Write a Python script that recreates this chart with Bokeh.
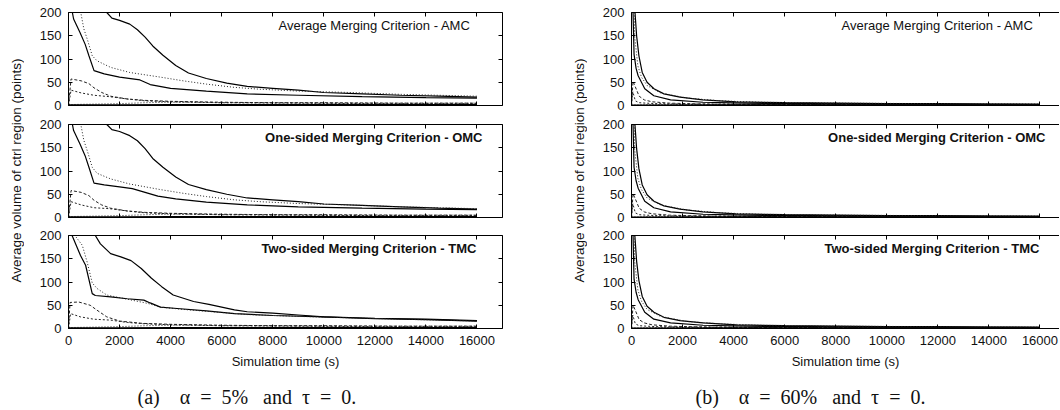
from bokeh.plotting import figure
from bokeh.layouts import row, column
from bokeh.models import FixedTicker, LinearAxis, Label, Range1d
from bokeh.embed import file_html
from bokeh.resources import INLINE

# ---------------- data ----------------
X_TICKS = [0, 2000, 4000, 6000, 8000, 10000, 12000, 14000, 16000]
Y_TICKS = [0, 50, 100, 150, 200]
Y_LABEL = "Average volume of ctrl region (points)"
X_LABEL = "Simulation time (s)"
PANEL_TITLES = ["Average Merging Criterion - AMC",
                "One-sided Merging Criterion - OMC",
                "Two-sided Merging Criterion - TMC"]
CAPTION_A = "(a)\u2003α\u2002=\u20025%\u2002\u2005and\u2002τ\u2002=\u20020."
CAPTION_B = "(b)\u2003α\u2002=\u200260%\u2002\u2005and\u2002τ\u2002=\u20020."

# --- (a) alpha = 5%, AMC ---
A_AMC_S1_X = [1400, 1500, 1700, 2000, 2400, 2700, 3000, 3300, 3700, 4200, 4700, 5400, 6200, 7000, 8000, 9000, 10000, 11500, 13000, 14500, 16000]
A_AMC_S1_Y = [215, 200, 188, 183, 175, 163, 147, 128, 108, 86, 70, 58, 48, 41, 37, 33, 28, 25, 22, 20, 18]
A_AMC_S2_X = [100, 200, 450, 650, 800, 1000, 1400, 2000, 2800, 3200, 4000, 5400, 7000, 9000, 11500, 14000, 16000]
A_AMC_S2_Y = [215, 186, 157, 132, 107, 75, 68, 61, 55, 45, 37, 31, 25, 22, 19, 17, 16]
A_AMC_S3_X = [430, 600, 750, 930, 1120, 1650, 2400, 3600, 4500, 5400, 6500, 7500, 9000, 11000, 13000, 16000]
A_AMC_S3_Y = [215, 165, 140, 107, 96, 82, 71, 61, 53, 46, 39, 35, 31, 28, 24, 20]
A_AMC_S4_X = [0, 100, 500, 800, 1000, 1300, 1650, 2300, 3000, 4000, 6000, 8000, 10000, 13000, 16000]
A_AMC_S4_Y = [0, 57, 53, 47, 38, 28, 20, 14, 11, 9, 7, 6, 6, 5, 5]
A_AMC_S5_X = [0, 100, 500, 1000, 1600, 2300, 3000, 4000, 6000, 9000, 12000, 16000]
A_AMC_S5_Y = [0, 33, 27, 22, 19, 14, 10, 8, 6, 5, 4, 4]
A_AMC_S6_X = [0, 1000, 2000, 3000, 4000, 5000, 6000, 8000, 10000, 12000, 14000, 16000]
A_AMC_S6_Y = [2, 3, 4, 6, 7, 7, 6, 6, 5, 5, 5, 5]
A_AMC_S7_X = [0, 2000, 4000, 8000, 12000, 16000]
A_AMC_S7_Y = [1, 1, 1.5, 1.5, 1.5, 1.5]

# --- (a) alpha = 5%, OMC ---
A_OMC_S1_X = [1400, 1500, 1700, 2000, 2400, 2700, 3000, 3300, 3700, 4200, 4700, 5400, 6200, 7000, 8000, 9000, 10000, 11500, 13000, 14500, 16000]
A_OMC_S1_Y = [215, 200, 189, 185, 176, 165, 148, 127, 108, 87, 71, 60, 50, 42, 38, 34, 29, 26, 23, 20, 18]
A_OMC_S2_X = [100, 200, 450, 650, 800, 1000, 1400, 2000, 2500, 3000, 3500, 4200, 5400, 7000, 9000, 11500, 14000, 16000]
A_OMC_S2_Y = [215, 187, 158, 133, 108, 74, 70, 66, 62, 54, 46, 40, 33, 27, 23, 20, 18, 17]
A_OMC_S3_X = [430, 600, 750, 930, 1120, 1650, 2400, 3600, 4500, 5400, 6500, 7500, 9000, 11000, 13000, 16000]
A_OMC_S3_Y = [215, 166, 141, 108, 95, 83, 72, 60, 52, 45, 38, 34, 30, 27, 23, 19]
A_OMC_S4_X = [0, 100, 500, 800, 1000, 1300, 1650, 2300, 3000, 4000, 6000, 8000, 10000, 13000, 16000]
A_OMC_S4_Y = [0, 58, 54, 47, 37, 27, 20, 14, 11, 9, 7, 6, 6, 5, 5]
A_OMC_S5_X = [0, 100, 500, 1000, 1600, 2300, 3000, 4000, 6000, 9000, 12000, 16000]
A_OMC_S5_Y = [0, 34, 27, 21, 19, 14, 10, 8, 6, 5, 4, 4]
A_OMC_S6_X = [0, 1000, 2000, 3000, 4000, 5000, 6000, 8000, 10000, 12000, 14000, 16000]
A_OMC_S6_Y = [2, 3, 4, 6, 7, 7, 6, 6, 5, 5, 5, 5]
A_OMC_S7_X = [0, 2000, 4000, 8000, 12000, 16000]
A_OMC_S7_Y = [1, 1, 1.5, 1.5, 1.5, 1.5]

# --- (a) alpha = 5%, TMC ---
A_TMC_S1_X = [900, 1050, 1250, 1650, 2050, 2450, 2850, 3250, 3650, 4100, 4900, 5500, 6500, 7000, 8000, 9000, 10000, 12000, 14000, 16000]
A_TMC_S1_Y = [215, 200, 182, 161, 154, 146, 129, 108, 90, 72, 58, 52, 40, 36, 33, 29, 25, 21, 19, 16]
A_TMC_S2_X = [100, 140, 470, 670, 930, 1050, 1650, 2300, 2950, 3200, 3600, 4250, 5400, 6500, 8000, 10000, 12000, 14000, 16000]
A_TMC_S2_Y = [215, 200, 157, 136, 75, 71, 68, 64, 61, 55, 46, 43, 38, 32, 28, 25, 22, 20, 17]
A_TMC_S3_X = [200, 250, 540, 730, 930, 1120, 1500, 2300, 3100, 3600, 4500, 5400, 7000, 9000, 11000, 13000, 16000]
A_TMC_S3_Y = [215, 200, 179, 143, 98, 86, 72, 63, 54, 46, 41, 37, 30, 26, 23, 20, 16]
A_TMC_S4_X = [0, 60, 400, 850, 1100, 1500, 2000, 2900, 4000, 6000, 8000, 10000, 13000, 16000]
A_TMC_S4_Y = [0, 56, 57, 50, 40, 25, 16, 11, 9, 7, 6, 6, 5, 5]
A_TMC_S5_X = [0, 80, 470, 990, 1650, 2300, 3000, 4000, 6000, 9000, 12000, 16000]
A_TMC_S5_Y = [0, 32, 25, 20, 18, 13, 10, 8, 6, 5, 4, 4]
A_TMC_S6_X = [0, 1000, 2000, 3000, 4000, 5000, 6000, 8000, 10000, 12000, 14000, 16000]
A_TMC_S6_Y = [2, 3, 4, 6, 7, 7, 6, 6, 5, 5, 5, 5]
A_TMC_S7_X = [0, 2000, 4000, 8000, 12000, 16000]
A_TMC_S7_Y = [1, 1, 1.5, 1.5, 1.5, 1.5]

# --- (b) alpha = 60%, AMC ---
B_AMC_S1_X = [40, 100, 200, 290, 420, 610, 880, 1270, 1900, 2800, 4100, 6000, 8000, 10000, 12000, 14000, 16000]
B_AMC_S1_Y = [600, 230, 150, 107, 71, 50, 36, 25, 18, 12, 8, 6, 5, 4, 4, 3, 3]
B_AMC_S2_X = [20, 60, 100, 180, 260, 520, 875, 1530, 2800, 4500, 7000, 10000, 13000, 16000]
B_AMC_S2_Y = [500, 200, 110, 80, 64, 36, 21, 12, 7, 5, 4, 3, 3, 2]
B_AMC_S3_X = [40, 120, 250, 390, 610, 1140, 2180, 3500, 5000, 8000, 12000, 16000]
B_AMC_S3_Y = [600, 150, 85, 61, 43, 27, 16, 10, 7, 5, 4, 3]
B_AMC_S4_X = [0, 60, 150, 300, 500, 800, 1500, 3000, 6000, 16000]
B_AMC_S4_Y = [0, 52, 40, 20, 12, 8, 5, 3, 2, 2]
B_AMC_S5_X = [0, 50, 150, 300, 600, 1000, 2000, 4000, 8000, 16000]
B_AMC_S5_Y = [0, 30, 10, 6, 5, 4, 3, 3, 2, 2]
B_AMC_S6_X = [0, 1000, 3000, 6000, 10000, 16000]
B_AMC_S6_Y = [1, 2, 2, 2, 2, 2]
B_AMC_S7_X = [0, 4000, 8000, 16000]
B_AMC_S7_Y = [0.5, 1, 1, 1]

# --- (b) alpha = 60%, OMC ---
B_OMC_S1_X = [40, 100, 200, 290, 420, 610, 880, 1270, 1900, 2800, 4100, 6000, 8000, 10000, 12000, 14000, 16000]
B_OMC_S1_Y = [600, 228, 148, 105, 70, 49, 35, 25, 18, 12, 8, 6, 5, 4, 4, 3, 3]
B_OMC_S2_X = [20, 60, 100, 180, 260, 520, 875, 1530, 2800, 4500, 7000, 10000, 13000, 16000]
B_OMC_S2_Y = [500, 200, 108, 79, 63, 35, 21, 12, 7, 5, 4, 3, 3, 2]
B_OMC_S3_X = [40, 120, 250, 390, 610, 1140, 2180, 3500, 5000, 8000, 12000, 16000]
B_OMC_S3_Y = [600, 148, 84, 60, 42, 27, 16, 10, 7, 5, 4, 3]
B_OMC_S4_X = [0, 60, 150, 300, 500, 800, 1500, 3000, 6000, 16000]
B_OMC_S4_Y = [0, 51, 40, 20, 12, 8, 5, 3, 2, 2]
B_OMC_S5_X = [0, 50, 150, 300, 600, 1000, 2000, 4000, 8000, 16000]
B_OMC_S5_Y = [0, 30, 10, 6, 5, 4, 3, 3, 2, 2]
B_OMC_S6_X = [0, 1000, 3000, 6000, 10000, 16000]
B_OMC_S6_Y = [1, 2, 2, 2, 2, 2]
B_OMC_S7_X = [0, 4000, 8000, 16000]
B_OMC_S7_Y = [0.5, 1, 1, 1]

# --- (b) alpha = 60%, TMC ---
B_TMC_S1_X = [40, 100, 200, 290, 420, 610, 880, 1270, 1900, 2800, 4100, 6000, 8000, 10000, 12000, 14000, 16000]
B_TMC_S1_Y = [600, 225, 145, 103, 69, 48, 35, 24, 17, 12, 8, 6, 5, 4, 4, 3, 3]
B_TMC_S2_X = [20, 60, 100, 180, 260, 520, 875, 1530, 2800, 4500, 7000, 10000, 13000, 16000]
B_TMC_S2_Y = [500, 200, 106, 78, 62, 35, 20, 12, 7, 5, 4, 3, 3, 2]
B_TMC_S3_X = [40, 120, 250, 390, 610, 1140, 2180, 3500, 5000, 8000, 12000, 16000]
B_TMC_S3_Y = [600, 146, 83, 59, 41, 26, 15, 10, 7, 5, 4, 3]
B_TMC_S4_X = [0, 60, 150, 300, 500, 800, 1500, 3000, 6000, 16000]
B_TMC_S4_Y = [0, 50, 39, 19, 12, 8, 5, 3, 2, 2]
B_TMC_S5_X = [0, 50, 150, 300, 600, 1000, 2000, 4000, 8000, 16000]
B_TMC_S5_Y = [0, 29, 10, 6, 5, 4, 3, 3, 2, 2]
B_TMC_S6_X = [0, 1000, 3000, 6000, 10000, 16000]
B_TMC_S6_Y = [1, 2, 2, 2, 2, 2]
B_TMC_S7_X = [0, 4000, 8000, 16000]
B_TMC_S7_Y = [0.5, 1, 1, 1]

# ---------------- styling ----------------
FONT = "Liberation Sans"
SERIF = "Liberation Serif"
STYLES = [  # (dash, width, color) for S1..S7
    ("solid", 1.2, "#000000"),
    ("solid", 1.2, "#000000"),
    ("1 2", 1.0, "#222222"),
    ("3 2", 1.0, "#222222"),
    ("2 2", 1.0, "#222222"),
    ("1 2", 1.0, "#222222"),
    ("solid", 1.4, "#000000"),
]

PANELS_A = [
    [(A_AMC_S1_X, A_AMC_S1_Y), (A_AMC_S2_X, A_AMC_S2_Y), (A_AMC_S3_X, A_AMC_S3_Y), (A_AMC_S4_X, A_AMC_S4_Y),
     (A_AMC_S5_X, A_AMC_S5_Y), (A_AMC_S6_X, A_AMC_S6_Y), (A_AMC_S7_X, A_AMC_S7_Y)],
    [(A_OMC_S1_X, A_OMC_S1_Y), (A_OMC_S2_X, A_OMC_S2_Y), (A_OMC_S3_X, A_OMC_S3_Y), (A_OMC_S4_X, A_OMC_S4_Y),
     (A_OMC_S5_X, A_OMC_S5_Y), (A_OMC_S6_X, A_OMC_S6_Y), (A_OMC_S7_X, A_OMC_S7_Y)],
    [(A_TMC_S1_X, A_TMC_S1_Y), (A_TMC_S2_X, A_TMC_S2_Y), (A_TMC_S3_X, A_TMC_S3_Y), (A_TMC_S4_X, A_TMC_S4_Y),
     (A_TMC_S5_X, A_TMC_S5_Y), (A_TMC_S6_X, A_TMC_S6_Y), (A_TMC_S7_X, A_TMC_S7_Y)],
]
PANELS_B = [
    [(B_AMC_S1_X, B_AMC_S1_Y), (B_AMC_S2_X, B_AMC_S2_Y), (B_AMC_S3_X, B_AMC_S3_Y), (B_AMC_S4_X, B_AMC_S4_Y),
     (B_AMC_S5_X, B_AMC_S5_Y), (B_AMC_S6_X, B_AMC_S6_Y), (B_AMC_S7_X, B_AMC_S7_Y)],
    [(B_OMC_S1_X, B_OMC_S1_Y), (B_OMC_S2_X, B_OMC_S2_Y), (B_OMC_S3_X, B_OMC_S3_Y), (B_OMC_S4_X, B_OMC_S4_Y),
     (B_OMC_S5_X, B_OMC_S5_Y), (B_OMC_S6_X, B_OMC_S6_Y), (B_OMC_S7_X, B_OMC_S7_Y)],
    [(B_TMC_S1_X, B_TMC_S1_Y), (B_TMC_S2_X, B_TMC_S2_Y), (B_TMC_S3_X, B_TMC_S3_Y), (B_TMC_S4_X, B_TMC_S4_Y),
     (B_TMC_S5_X, B_TMC_S5_Y), (B_TMC_S6_X, B_TMC_S6_Y), (B_TMC_S7_X, B_TMC_S7_Y)],
]
TITLE_X = [15746, 16216, 15980]
TITLE_Y = 173
TITLE_STYLE = ["normal", "bold", "bold"]

FRAME_H = 93
BORDERS = [(12, 9), (10, 9), (9, 52)]
CAPTION_H = 28
TOTAL_H = 408
LABEL_W = 24
PANEL_LEFT = 44
TEXT_PX = "13px"


def plain(p):
    p.outline_line_color = None
    p.background_fill_color = "white"
    p.border_fill_color = "white"
    p.xgrid.visible = False
    p.ygrid.visible = False


def style_axis(ax, ticks, show_labels):
    ax.ticker = FixedTicker(ticks=ticks)
    ax.axis_line_color = "black"
    ax.axis_line_width = 1
    ax.major_tick_in = 4
    ax.major_tick_out = 0
    ax.major_tick_line_color = "black"
    ax.minor_tick_line_color = None
    ax.minor_tick_in = 0
    ax.minor_tick_out = 0
    if show_labels:
        ax.major_label_text_font = FONT
        ax.major_label_text_font_size = TEXT_PX
        ax.major_label_text_color = "#111111"
        ax.major_label_standoff = 7
    else:
        ax.major_label_text_font_size = "0px"
        ax.major_label_text_color = None
        ax.major_label_standoff = 0


def text_figure(width, height):
    p = figure(width=width, height=height, x_range=Range1d(0, 1), y_range=Range1d(0, 1),
               output_backend="svg", toolbar_location=None,
               x_axis_location=None, y_axis_location=None,
               min_border_left=0, min_border_right=0, min_border_top=0, min_border_bottom=0)
    plain(p)
    return p


def ylabel_figure():
    p = text_figure(LABEL_W, TOTAL_H)
    p.add_layout(Label(x=16, y=TOTAL_H - 170, x_units="screen", y_units="screen",
                       angle=90, angle_units="deg", text=Y_LABEL,
                       text_align="center", text_baseline="middle",
                       text_font=FONT, text_font_size="13.5px", text_color="#111111"))
    return p


def caption_figure(width, caption, left):
    # in a column, this figure's frame is aligned with the panels' frames
    p = text_figure(width, CAPTION_H)
    p.add_layout(Label(x=left, y=12, x_units="screen", y_units="screen",
                       text=caption, text_align="left", text_baseline="middle",
                       text_font=SERIF, text_font_size="20px", text_color="#111111"))
    return p


def make_column(panels, x_end, frame_w, border_right, has_right_axis, caption, cap_left):
    figs = []
    fig_w = PANEL_LEFT + frame_w + border_right
    for i, series in enumerate(panels):
        bt, bb = BORDERS[i]
        p = figure(width=fig_w, height=bt + FRAME_H + bb,
                   x_range=Range1d(0, x_end), y_range=Range1d(0, 200),
                   output_backend="svg", toolbar_location=None,
                   x_axis_location=None, y_axis_location=None,
                   min_border_left=PANEL_LEFT, min_border_right=border_right,
                   min_border_top=bt, min_border_bottom=bb)
        plain(p)

        for (xs, ys), (dash, lw, col) in zip(series, STYLES):
            p.line(xs, ys, line_color=col, line_width=lw, line_dash=dash)

        bottom = (i == 2)
        xb = LinearAxis()
        style_axis(xb, X_TICKS, bottom)
        if bottom:
            xb.axis_label = X_LABEL
            xb.axis_label_text_font = FONT
            xb.axis_label_text_font_size = TEXT_PX
            xb.axis_label_text_font_style = "normal"
            xb.axis_label_text_color = "#111111"
            xb.axis_label_standoff = 6
        p.add_layout(xb, "below")
        xt = LinearAxis()
        style_axis(xt, X_TICKS, False)
        p.add_layout(xt, "above")

        yl = LinearAxis()
        style_axis(yl, Y_TICKS, True)
        p.add_layout(yl, "left")
        if has_right_axis:
            yr = LinearAxis()
            style_axis(yr, Y_TICKS, False)
            p.add_layout(yr, "right")

        p.add_layout(Label(x=TITLE_X[i], y=TITLE_Y, text=PANEL_TITLES[i],
                           text_align="right", text_baseline="middle",
                           text_font=FONT, text_font_size=TEXT_PX,
                           text_font_style=TITLE_STYLE[i], text_color="#111111"))
        figs.append(p)
    figs.append(caption_figure(fig_w, caption, cap_left))
    return row(ylabel_figure(), column(*figs))


FRAME_W_A = 434
FRAME_W_B = 428
col_a = make_column(PANELS_A, 17000, FRAME_W_A, 61, True, CAPTION_A, 69)
col_b = make_column(PANELS_B, 17000 * FRAME_W_B / FRAME_W_A, FRAME_W_B, 0, False, CAPTION_B, 64)
layout = row(col_a, col_b)

open("out.html", "w").write(file_html(layout, INLINE))
